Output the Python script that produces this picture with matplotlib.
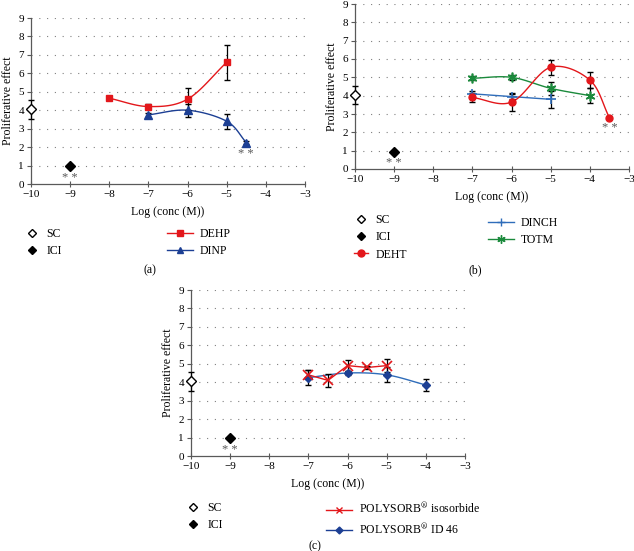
import matplotlib.pyplot as plt
import numpy as np
from matplotlib.lines import Line2D

plt.rcParams["font.family"] = ["Liberation Serif", "DejaVu Serif"]
plt.rcParams["mathtext.fontset"] = "stix"

# controls (same in every panel)
sc_x, sc_y, sc_err = -10, 4.05, 0.5
ici_x, ici_y = -9, 0.95

# panel (a)
dehp_x = [-8, -7, -6, -5]
dehp_y = [4.65, 4.2, 4.6, 6.6]
dehp_err = [0.12, 0.15, 0.6, 0.95]
dinp_x = [-7, -6, -5, -4.5]
dinp_y = [3.75, 4.0, 3.4, 2.25]
dinp_err = [0.1, 0.35, 0.4, 0.1]

# panel (b)
deht_x = [-7, -6, -5, -4, -3.5]
deht_y = [3.9, 3.65, 5.55, 4.85, 2.8]
deht_err = [0.25, 0.5, 0.4, 0.45, 0.1]
dinch_x = [-7, -6, -5]
dinch_y = [4.1, 3.95, 3.8]
dinch_err = [0.15, 0.15, 0.45]
totm_x = [-7, -6, -5, -4]
totm_y = [4.95, 5.0, 4.4, 4.0]
totm_err = [0.1, 0.15, 0.35, 0.4]

# panel (c)
iso_x = [-7, -6.5, -6, -5.5, -5]
iso_y = [4.4, 4.1, 4.9, 4.8, 4.9]
iso_err = [0.25, 0.35, 0.3, 0.1, 0.35]
id46_x = [-7, -6, -5, -4]
id46_y = [4.25, 4.5, 4.4, 3.85]
id46_err = [0.4, 0.1, 0.4, 0.3]

x_ticks = [-10, -9, -8, -7, -6, -5, -4, -3]
y_ticks = list(range(10))

RED = "#e3171b"
DBLUE = "#1c3f94"
BLUE = "#2f6dba"
GREEN = "#1b8a3c"
GREY = "#595959"


def smooth(xs, ys, n=30):
    # catmull-rom, similar to excel's smoothed line
    xs = np.asarray(xs, float)
    ys = np.asarray(ys, float)
    px = np.concatenate(([2 * xs[0] - xs[1]], xs, [2 * xs[-1] - xs[-2]]))
    py = np.concatenate(([2 * ys[0] - ys[1]], ys, [2 * ys[-1] - ys[-2]]))
    outx, outy = [], []
    t = np.linspace(0, 1, n)
    for i in range(1, len(px) - 2):
        for p, out in ((px, outx), (py, outy)):
            p0, p1, p2, p3 = p[i - 1:i + 3]
            out.extend(0.5 * (2 * p1 + (-p0 + p2) * t
                              + (2 * p0 - 5 * p1 + 4 * p2 - p3) * t ** 2
                              + (-p0 + 3 * p1 - 3 * p2 + p3) * t ** 3))
    return outx, outy


def stars(ax, x, y):
    ax.text(x, y, "* *", color=GREY, ha="center", va="center", fontsize=9)


def setup(ax):
    ax.set_xlim(-10, -3)
    ax.set_ylim(0, 9)
    ax.set_xticks(x_ticks)
    ax.set_yticks(y_ticks)
    for s in ("top", "right"):
        ax.spines[s].set_visible(False)
    for s in ("left", "bottom"):
        ax.spines[s].set_color(GREY)
        ax.spines[s].set_linewidth(0.9)
    ax.tick_params(axis="x", direction="inout", length=5, width=0.8,
                   color=GREY, labelsize=8, pad=2)
    ax.tick_params(axis="y", direction="out", length=3, width=0.8,
                   color=GREY, labelsize=8, pad=2)
    for y in y_ticks[1:]:
        ax.axhline(y, color="#808080", lw=0.8, ls=(0, (1, 6)), zorder=0)
    ax.set_xlabel("Log (conc (M))", fontsize=8.5, labelpad=5)
    ax.set_ylabel("Proliferative effect", fontsize=8.5, labelpad=3)
    ax.errorbar([sc_x], [sc_y], yerr=[sc_err], fmt="D", ms=5, mfc="white",
                mec="black", mew=1, ecolor="black", elinewidth=0.9,
                capsize=2, clip_on=False, zorder=5)
    ax.plot([ici_x], [ici_y], "D", ms=5, color="black", zorder=5)
    stars(ax, ici_x, 0.33)


def series(ax, xs, ys, err, color, marker, ms, mcolor, curve=True, **kw):
    if curve:
        cx, cy = smooth(xs, ys)
    else:
        cx, cy = xs, ys
    ax.plot(cx, cy, color=color, lw=1.0, zorder=3)
    ax.errorbar(xs, ys, yerr=err, fmt="none", ecolor="black",
                elinewidth=0.9, capsize=2, zorder=4)
    ax.plot(xs, ys, ls="none", marker=marker, ms=ms, color=mcolor,
            zorder=5, **kw)


def legends(ax, fig, left, right, left_anchor, right_anchor):
    l1 = ax.legend(handles=left, loc="upper left", frameon=False,
                   bbox_to_anchor=left_anchor, bbox_transform=fig.transFigure,
                   fontsize=8.5, handlelength=1.2, handletextpad=0.6,
                   labelspacing=0.45, borderpad=0, borderaxespad=0)
    ax.add_artist(l1)
    ax.legend(handles=right, loc="upper left", frameon=False,
              bbox_to_anchor=right_anchor, bbox_transform=fig.transFigure,
              fontsize=8.5, handlelength=2.2, handletextpad=0.6,
              labelspacing=0.45, borderpad=0, borderaxespad=0)


def fx(px):
    return px / 634


def fy(py):
    return 1 - py / 551


fig = plt.figure(figsize=(6.34, 5.51), dpi=100)
ax_a = fig.add_axes([fx(31), fy(184), fx(274), 166 / 551])
ax_b = fig.add_axes([fx(355), fy(169), fx(274), 165 / 551])
ax_c = fig.add_axes([fx(191), fy(456), fx(274), 166 / 551])

# (a)
setup(ax_a)
series(ax_a, dehp_x, dehp_y, dehp_err, RED, "s", 5, RED)
series(ax_a, dinp_x, dinp_y, dinp_err, DBLUE, "^", 5.5, DBLUE)
stars(ax_a, -4.5, 1.65)
legends(ax_a, fig,
        [Line2D([], [], ls="none", marker="D", ms=4, mfc="white", mec="black", label="SC"),
         Line2D([], [], ls="none", marker="D", ms=4, color="black", label="ICI")],
        [Line2D([], [], color=RED, marker="s", ms=4.5, lw=1, label="DEHP"),
         Line2D([], [], color=DBLUE, marker="^", ms=4.5, lw=1, label="DINP")],
        (fx(25), fy(228)), (fx(167), fy(228)))
fig.text(fx(150), fy(270), "(a)", ha="center", va="center", fontsize=8.5)

# (b)
setup(ax_b)
series(ax_b, dinch_x, dinch_y, dinch_err, BLUE, "+", 7, BLUE, mew=1.2)
series(ax_b, totm_x, totm_y, totm_err, GREEN, (6, 2, 0), 7, GREEN, mew=1.2)
series(ax_b, deht_x, deht_y, deht_err, RED, "o", 5, RED)
stars(ax_b, -3.5, 2.25)
legends(ax_b, fig,
        [Line2D([], [], ls="none", marker="D", ms=4, mfc="white", mec="black", label="SC"),
         Line2D([], [], ls="none", marker="D", ms=4, color="black", label="ICI"),
         Line2D([], [], color=RED, marker="o", ms=5, lw=1, label="DEHT")],
        [Line2D([], [], color=BLUE, marker="+", ms=6, lw=1, label="DINCH"),
         Line2D([], [], color=GREEN, marker=(6, 2, 0), ms=6, lw=1, label="TOTM")],
        (fx(354), fy(214)), (fx(488), fy(217)))
fig.text(fx(475), fy(270), "(b)", ha="center", va="center", fontsize=8.5)

# (c)
setup(ax_c)
series(ax_c, id46_x, id46_y, id46_err, BLUE, "D", 4, DBLUE)
series(ax_c, iso_x, iso_y, iso_err, RED, "x", 7, RED, curve=False, mew=1.2)
legends(ax_c, fig,
        [Line2D([], [], ls="none", marker="D", ms=4, mfc="white", mec="black", label="SC"),
         Line2D([], [], ls="none", marker="D", ms=4, color="black", label="ICI")],
        [Line2D([], [], color=RED, marker="x", ms=5, lw=1,
                label="POLYSORB$^{\\circledR}$ isosorbide"),
         Line2D([], [], color=DBLUE, marker="D", ms=3.5, lw=1,
                label="POLYSORB$^{\\circledR}$ ID 46")],
        (fx(186), fy(502)), (fx(326), fy(502)))
fig.text(fx(315), fy(546), "(c)", ha="center", va="center", fontsize=8.5)

fig.savefig("out.png", dpi=100)
